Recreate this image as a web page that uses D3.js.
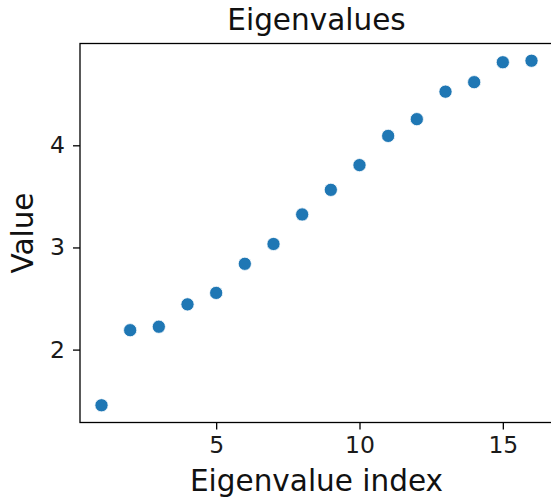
<!doctype html>
<html lang="en">
<head>
  <meta charset="utf-8">
  <title>Eigenvalues</title>
  <script src="https://d3js.org/d3.v7.min.js"></script>
  <style>
  body { margin: 0; background: #fff; }
  svg { display: block; font-family: "DejaVu Sans", sans-serif; }
  .dot { fill: #1f77b4; stroke: #fff; stroke-width: 0.8; }
  </style>
</head>
<body>
<div id="chart"></div>
<script>
  // eigenvalue index and value
  var indices = [1, 2, 3, 4, 5, 6, 7, 8, 9, 10, 11, 12, 13, 14, 15, 16];
  var values = [1.455, 2.190, 2.224, 2.443, 2.555, 2.840, 3.034, 3.323,
                3.564, 3.806, 4.092, 4.256, 4.525, 4.618, 4.813, 4.828];
  var xTicks = [5, 10, 15];
  var yTicks = [2, 3, 4];

  var W = 551, H = 497;
  // plot box (right edge runs past the picture, as in the original)
  var box = {left: 80, top: 43.5, right: 553, bottom: 422.5};

  var svg = d3.select("#chart").append("svg")
      .attr("width", W)
      .attr("height", H);

  // matplotlib-style 5% margins
  var xPad = (d3.max(indices) - d3.min(indices)) * 0.05;
  var yPad = (d3.max(values) - d3.min(values)) * 0.05;
  var x = d3.scaleLinear()
      .domain([d3.min(indices) - xPad, d3.max(indices) + xPad])
      .range([box.left, box.right]);
  var y = d3.scaleLinear()
      .domain([d3.min(values) - yPad, d3.max(values) + yPad])
      .range([box.bottom, box.top]);

  var data = indices.map(function(d, i) { return {i: d, v: values[i]}; });

  svg.selectAll(".dot")
      .data(data)
    .enter().append("circle")
      .attr("class", "dot")
      .attr("cx", function(d) { return x(d.i); })
      .attr("cy", function(d) { return y(d.v); })
      .attr("r", 6.6);

  // frame
  svg.append("rect")
      .attr("x", box.left).attr("y", box.top)
      .attr("width", box.right - box.left).attr("height", box.bottom - box.top)
      .attr("fill", "none").attr("stroke", "#000").attr("stroke-width", 1.3);

  var xAxis = svg.append("g")
      .attr("transform", "translate(0," + box.bottom + ")")
      .call(d3.axisBottom(x).tickValues(xTicks).tickFormat(d3.format("d"))
        .tickSize(7).tickPadding(7));
  var yAxis = svg.append("g")
      .attr("transform", "translate(" + box.left + ",0)")
      .call(d3.axisLeft(y).tickValues(yTicks).tickFormat(d3.format("d"))
        .tickSize(7).tickPadding(8));

  [xAxis, yAxis].forEach(function(g) {
    g.select(".domain").remove();
    g.selectAll("line").attr("stroke", "#000").attr("stroke-width", 1.3);
    g.selectAll("text")
        .attr("fill", "#1a1a1a")
        .style("font-family", "DejaVu Sans")
        .style("font-size", "23.5px");
  });

  svg.append("text")
      .attr("x", (box.left + box.right) / 2).attr("y", 29.5)
      .attr("text-anchor", "middle")
      .style("font-size", "29.5px")
      .attr("fill", "#111")
      .text("Eigenvalues");

  svg.append("text")
      .attr("x", (box.left + box.right) / 2).attr("y", 491)
      .attr("text-anchor", "middle")
      .style("font-size", "29.5px")
      .attr("fill", "#111")
      .text("Eigenvalue index");

  svg.append("text")
      .attr("transform", "translate(33," + (box.top + box.bottom) / 2 + ") rotate(-90)")
      .attr("text-anchor", "middle")
      .style("font-size", "29.5px")
      .attr("fill", "#111")
      .text("Value");
</script>
</body>
</html>
